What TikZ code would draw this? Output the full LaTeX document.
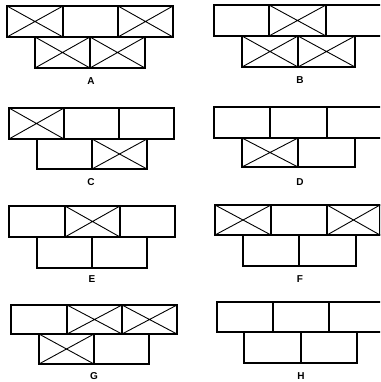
\documentclass[tikz,border=0pt]{standalone}
\usepackage{fontspec}
\setmainfont{Liberation Sans}
\tikzset{
  brickline/.style={draw=black, line width=1.4pt, line join=miter},
  crossline/.style={draw=black, line width=0.9pt},
  lab/.style={font=\fontsize{10}{12}\selectfont\bfseries, inner sep=0pt, anchor=center}
}
\newcommand{\bk}[4]{\draw[brickline] (#1,#2) rectangle (#3,#4);}
\newcommand{\xbk}[4]{\draw[crossline] (#1,#2) -- (#3,#4) (#1,#4) -- (#3,#2);\draw[brickline] (#1,#2) rectangle (#3,#4);}
\begin{document}
\begin{tikzpicture}[x=1pt,y=-1pt]
\useasboundingbox (0,0) rectangle (380,382);
\clip (0,0) rectangle (380,382);
% A
\xbk{7}{6}{63}{37}\bk{63}{6}{118}{37}\xbk{118}{6}{173}{37}
\xbk{35}{37}{90}{68}\xbk{90}{37}{145}{68}
\node[lab] (labA) at (91,81) {A};
% B
\bk{214}{5}{269}{36}\xbk{269}{5}{326}{36}\bk{326}{5}{384}{36}
\xbk{242}{36}{298}{67}\xbk{298}{36}{355}{67}
\node[lab] (labB) at (300,80) {B};
% C
\xbk{9}{108}{64}{139}\bk{64}{108}{119}{139}\bk{119}{108}{174}{139}
\bk{37}{139}{92}{169}\xbk{92}{139}{147}{169}
\node[lab] (labC) at (91,182) {C};
% D
\bk{214}{107}{270}{138}\bk{270}{107}{327}{138}\bk{327}{107}{384}{138}
\xbk{242}{138}{298}{167}\bk{298}{138}{355}{167}
\node[lab] (labD) at (300,182) {D};
% E
\bk{9}{206}{65}{237}\xbk{65}{206}{120}{237}\bk{120}{206}{175}{237}
\bk{37}{237}{92}{268}\bk{92}{237}{147}{268}
\node[lab] (labE) at (92,279) {E};
% F
\xbk{215}{205}{271}{235}\bk{271}{205}{327}{235}\xbk{327}{205}{380}{235}
\draw[brickline] (380,205) -- (384,205) (380,235) -- (384,235);
\bk{243}{235}{299}{266}\bk{299}{235}{356}{266}
\node[lab] (labF) at (300,279) {F};
% G
\bk{11}{305}{67}{334}\xbk{67}{305}{122}{334}\xbk{122}{305}{177}{334}
\xbk{39}{334}{94}{364}\bk{94}{334}{149}{364}
\node[lab] (labG) at (94,376) {G};
% H
\bk{217}{302}{273}{332}\bk{273}{302}{329}{332}\bk{329}{302}{386}{332}
\bk{244}{332}{301}{363}\bk{301}{332}{357}{363}
\node[lab] (labH) at (301,376) {H};
\end{tikzpicture}
\end{document}
